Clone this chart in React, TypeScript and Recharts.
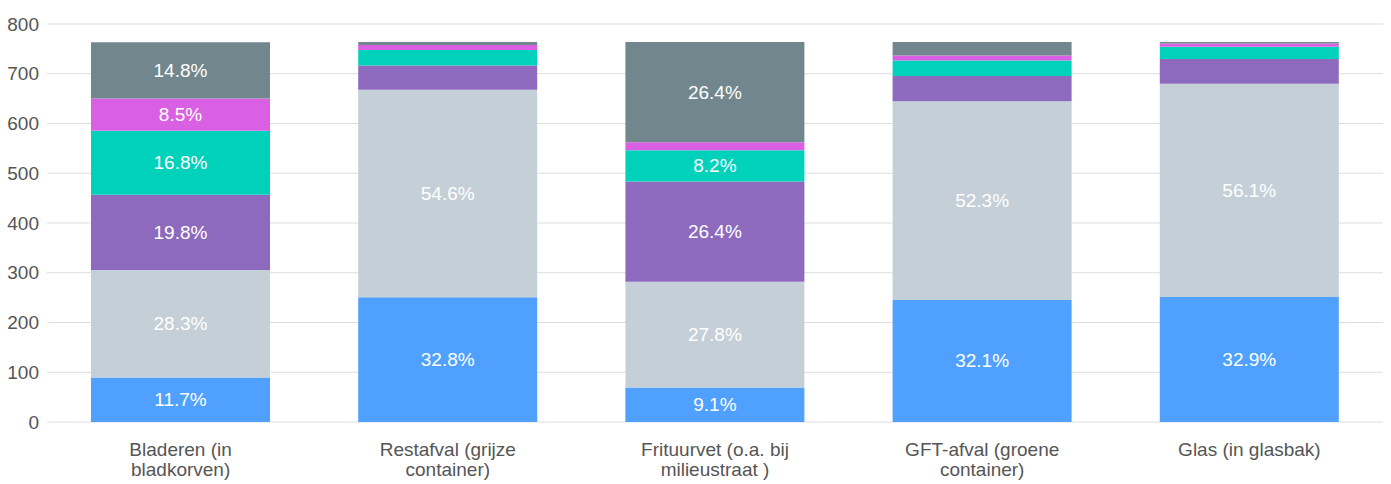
import { BarChart, Bar, XAxis, YAxis, CartesianGrid, LabelList } from "recharts";

// categories (x axis), "\n" marks where the tick label wraps
const categories = [
  "Bladeren (in\nbladkorven)",
  "Restafval (grijze\ncontainer)",
  "Frituurvet (o.a. bij\nmilieustraat )",
  "GFT-afval (groene\ncontainer)",
  "Glas (in glasbak)",
];

// share per series, in percent, bottom to top
const blueShare = [11.7, 32.8, 9.1, 32.1, 32.9];
const lightGrayShare = [28.3, 54.6, 27.8, 52.3, 56.1];
const purpleShare = [19.8, 6.4, 26.4, 6.6, 6.5];
const tealShare = [16.8, 4.1, 8.2, 4.1, 3.2];
const pinkShare = [8.5, 1.3, 2.1, 1.3, 0.9];
const darkGrayShare = [14.8, 0.8, 26.4, 3.6, 0.4];

// respondents per category (bar height)
const totals = [764, 764, 764, 764, 764];

const yTicks = [0, 100, 200, 300, 400, 500, 600, 700, 800];

const FONT = "'Liberation Sans', Arial, Helvetica, sans-serif";

const series = [
  { key: "blue", share: blueShare, color: "#50a1ff" },
  { key: "lightGray", share: lightGrayShare, color: "#c5cfd7" },
  { key: "purple", share: purpleShare, color: "#8d6abe" },
  { key: "teal", share: tealShare, color: "#00d1ba" },
  { key: "pink", share: pinkShare, color: "#d960e3" },
  { key: "darkGray", share: darkGrayShare, color: "#72878d" },
];

const data = categories.map((name, i) => {
  const row: Record<string, any> = { name };
  series.forEach((s) => {
    row[s.key] = (s.share[i] / 100) * totals[i];
    row[s.key + "Pct"] = s.share[i];
  });
  return row;
});

const SegmentLabel = (props: any) => {
  const { x, y, width, height, value } = props;
  if (value == null || value < 8) return null;
  return (
    <text
      x={x + width / 2}
      y={y + height / 2}
      textAnchor="middle"
      dominantBaseline="central"
      fill="#ffffff"
      fontSize={19}
      fontFamily={FONT}
    >
      {value.toFixed(1)}%
    </text>
  );
};

const CategoryTick = (props: any) => {
  const { x, y, payload } = props;
  const lines = String(payload.value).split("\n");
  return (
    <text
      x={x}
      y={y + 26}
      textAnchor="middle"
      fill="#555555"
      fontSize={19}
      fontFamily={FONT}
    >
      {lines.map((line, i) => (
        <tspan key={i} x={x} dy={i === 0 ? 0 : 20}>
          {line}
        </tspan>
      ))}
    </text>
  );
};

export default function App() {
  return (
    <div style={{ position: "absolute", left: 0, top: 0 }}>
      <BarChart
        width={1391}
        height={484}
        data={data}
        margin={{ top: 24, right: 8, bottom: 0, left: 0 }}
      >
        <CartesianGrid vertical={false} stroke="#dddddd" />
        <XAxis
          dataKey="name"
          axisLine={false}
          tickLine={false}
          height={62}
          interval={0}
          tick={<CategoryTick />}
        />
        <YAxis
          width={47}
          domain={[0, 800]}
          ticks={yTicks}
          axisLine={false}
          tickLine={false}
          tick={{ fill: "#555555", fontSize: 19, fontFamily: FONT }}
        />
        {series.map((s) => (
          <Bar
            key={s.key}
            dataKey={s.key}
            stackId="a"
            fill={s.color}
            barSize={179}
            isAnimationActive={false}
          >
            <LabelList dataKey={s.key + "Pct"} content={<SegmentLabel />} />
          </Bar>
        ))}
      </BarChart>
    </div>
  );
}
